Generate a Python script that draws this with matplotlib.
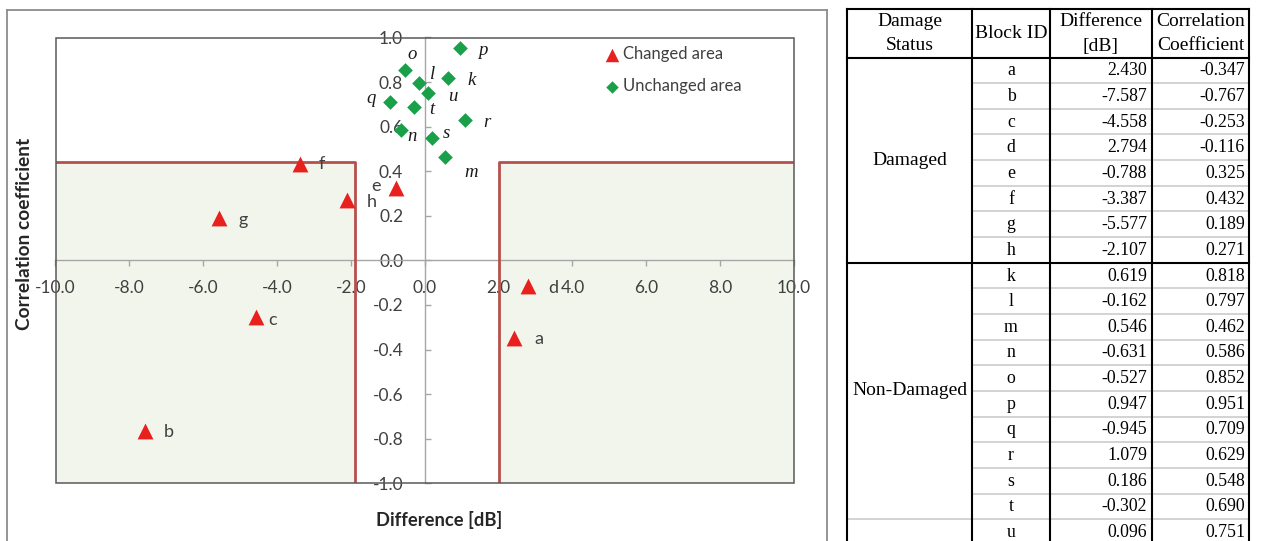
import matplotlib
matplotlib.use('Agg')
import matplotlib.pyplot as plt
from matplotlib.lines import Line2D
from matplotlib.patches import Rectangle

# ---------------- data ----------------
damaged_ids = ['a', 'b', 'c', 'd', 'e', 'f', 'g', 'h']
damaged_diff = [2.430, -7.587, -4.558, 2.794, -0.788, -3.387, -5.577, -2.107]
damaged_corr = [-0.347, -0.767, -0.253, -0.116, 0.325, 0.432, 0.189, 0.271]

undamaged_ids = ['k', 'l', 'm', 'n', 'o', 'p', 'q', 'r', 's', 't', 'u']
undamaged_diff = [0.619, -0.162, 0.546, -0.631, -0.527, 0.947, -0.945, 1.079, 0.186, -0.302, 0.096]
undamaged_corr = [0.818, 0.797, 0.462, 0.586, 0.852, 0.951, 0.709, 0.629, 0.548, 0.690, 0.751]

x_ticks = [-10, -8, -6, -4, -2, 0, 2, 4, 6, 8, 10]
y_ticks = [-1.0, -0.8, -0.6, -0.4, -0.2, 0.0, 0.2, 0.4, 0.6, 0.8, 1.0]

diff_low = -1.9
diff_high = 2.0
corr_threshold = 0.44

legend_labels = ['Changed area', 'Unchanged area']
x_title = 'Difference [dB]'
y_title = 'Correlation coefficient'

table_header = [['Damage', 'Status'], ['Block ID'], ['Difference', '[dB]'], ['Correlation', 'Coefficient']]
status_groups = [('Damaged', 8), ('Non-Damaged', 10), ('', 1)]

# ---------------- layout helpers ----------------
W, H = 1262, 541
fig = plt.figure(figsize=(W / 100, H / 100), dpi=100)


def P(x, y):
    return (x / W, 1 - y / H)


SANS = ['Lato', 'DejaVu Sans']
SERIF = ['Liberation Serif', 'DejaVu Serif']
TXT = '#404040'

# ---------------- chart ----------------
ax_l, ax_r, ax_t, ax_b = 55.5, 794, 37.5, 483.3
ax = fig.add_axes([ax_l / W, 1 - ax_b / H, (ax_r - ax_l) / W, (ax_b - ax_t) / H])
ax.set_xlim(x_ticks[0], x_ticks[-1])
ax.set_ylim(y_ticks[0], y_ticks[-1])
ax.set_facecolor('white')

# shaded regions + threshold lines
fill_c = '#F2F5EC'
line_c = '#B5504D'
ax.fill_between([x_ticks[0], diff_low], y_ticks[0], corr_threshold, color=fill_c, lw=0, zorder=0)
ax.fill_between([diff_high, x_ticks[-1]], y_ticks[0], corr_threshold, color=fill_c, lw=0, zorder=0)
ax.plot([x_ticks[0], diff_low, diff_low], [corr_threshold, corr_threshold, y_ticks[0]],
        color=line_c, lw=2.0, zorder=3, solid_capstyle='butt')
ax.plot([diff_high, diff_high, x_ticks[-1]], [y_ticks[0], corr_threshold, corr_threshold],
        color=line_c, lw=2.0, zorder=3, solid_capstyle='butt')

# axes crossing at origin
for s in ['top', 'right']:
    ax.spines[s].set_visible(False)
ax.spines['left'].set_position(('data', 0))
ax.spines['bottom'].set_position(('data', 0))
for s in ['left', 'bottom']:
    ax.spines[s].set_color('#A6A6A6')
    ax.spines[s].set_linewidth(1.0)
    ax.spines[s].set_zorder(2)
ax.set_xticks(x_ticks)
ax.set_yticks(y_ticks)
ax.set_xticklabels([f'{v:.1f}' for v in x_ticks])
ax.set_yticklabels([f'{v:.1f}' for v in y_ticks])
ax.tick_params(axis='x', direction='out', length=4.3, width=1, color='#A6A6A6',
               pad=9.5, labelsize=12.5, labelcolor=TXT)
ax.tick_params(axis='y', direction='in', length=4.3, width=1, color='#A6A6A6',
               pad=15.5, labelsize=12.5, labelcolor=TXT)
for lab in ax.get_xticklabels() + ax.get_yticklabels():
    lab.set_family(SANS)

# plot-area frame
ax.add_patch(Rectangle((0, 0), 1, 1, transform=ax.transAxes, fill=False,
                       edgecolor='#595959', lw=1.1, zorder=4, clip_on=False))

# points
ax.scatter(damaged_diff, damaged_corr, marker='^', s=130, color='#E8201E', zorder=5,
           linewidths=0, label=legend_labels[0])
ax.scatter(undamaged_diff, undamaged_corr, marker='D', s=56, color='#1BA04A', zorder=5,
           linewidths=0, label=legend_labels[1])

# label offsets (pixels: right, up)
dam_off = {'a': (24, -1), 'b': (24, -1), 'c': (16, -3), 'd': (25, -2), 'e': (-20, 2),
           'f': (22, 0), 'g': (24, -2), 'h': (25, -2)}
und_off = {'k': (24, -2), 'l': (14, 8), 'm': (26, -15), 'n': (11, -7), 'o': (7, 16),
           'p': (23, -2), 'q': (-19, 4), 'r': (22, -2), 's': (15, 5), 't': (18, -3), 'u': (24, -3)}
for i, x, y in zip(damaged_ids, damaged_diff, damaged_corr):
    dx, dy = dam_off[i]
    ax.annotate(i, (x, y), xytext=(dx * 0.72, dy * 0.72), textcoords='offset points',
                ha='center', va='center', fontsize=13, family=SANS, color=TXT, zorder=6)
for i, x, y in zip(undamaged_ids, undamaged_diff, undamaged_corr):
    dx, dy = und_off[i]
    ax.annotate(i, (x, y), xytext=(dx * 0.72, dy * 0.72), textcoords='offset points',
                ha='center', va='center', fontsize=13.5, family=SERIF, style='italic',
                color='#1a1a1a', zorder=6)

leg = ax.legend(loc='upper left', bbox_to_anchor=P(606, 46), bbox_transform=fig.transFigure,
                frameon=False, fontsize=12, handlelength=0.7, handletextpad=0.3,
                labelspacing=0.98, borderpad=0, borderaxespad=0, markerscale=0.85)
for t in leg.get_texts():
    t.set_family(SANS)
    t.set_color(TXT)

# axis titles
fig.text(*P(439, 520), x_title, ha='center', va='center', fontsize=13.2,
         fontweight='bold', family=SANS, color='#262626')
fig.text(*P(25, 234), y_title, ha='center', va='center', rotation=90, fontsize=13.8,
         fontweight='bold', family=SANS, color='#262626')

# outer chart border
bc = '#8C8C8C'
for xs, ys in [((7, 7), (10, 560)), ((7, 827), (10, 10)), ((827, 827), (10, 560))]:
    fig.add_artist(Line2D([xs[0] / W, xs[1] / W], [1 - ys[0] / H, 1 - ys[1] / H],
                          color=bc, lw=1.3, transform=fig.transFigure))

# ---------------- table ----------------
col_x = [847, 972, 1050, 1152, 1249]
t_top = 9
hdr_bot = 57.5
row_h = 25.65
all_ids = damaged_ids + undamaged_ids
all_diff = damaged_diff + undamaged_diff
all_corr = damaged_corr + undamaged_corr


def hline(y, x0, x1, color, lw):
    fig.add_artist(Line2D([x0 / W, x1 / W], [1 - y / H, 1 - y / H], color=color, lw=lw,
                          transform=fig.transFigure, solid_capstyle='projecting'))


def vline(x, y0, y1, color, lw):
    fig.add_artist(Line2D([x / W, x / W], [1 - y0 / H, 1 - y1 / H], color=color, lw=lw,
                          transform=fig.transFigure, solid_capstyle='projecting'))


grey = '#C8C8C8'
# row separators (thin grey)
r = 0
for name, n in status_groups:
    for k in range(n):
        y = hdr_bot + (r + k) * row_h
        if k > 0:
            hline(y, col_x[1], col_x[-1], grey, 1.1)
    r += n
# group separators
y_dam = hdr_bot + 8 * row_h
y_non = hdr_bot + 18 * row_h
hline(y_non, col_x[0], col_x[-1], grey, 1.1)
hline(t_top, col_x[0], col_x[-1], 'black', 1.5)
hline(hdr_bot, col_x[0], col_x[-1], 'black', 1.5)
hline(y_dam, col_x[0], col_x[-1], 'black', 1.5)
for x in col_x:
    vline(x, t_top, 560, 'black', 1.5)

# header text
hdr_fs = 14
cell_fs = 12.8
for ci, lines in enumerate(table_header):
    cx = (col_x[ci] + col_x[ci + 1]) / 2
    if len(lines) == 1:
        fig.text(*P(cx, 34), lines[0], ha='center', va='center', fontsize=hdr_fs, family=SERIF)
    else:
        fig.text(*P(cx, 21), lines[0], ha='center', va='center', fontsize=hdr_fs, family=SERIF)
        fig.text(*P(cx, 46), lines[1], ha='center', va='center', fontsize=hdr_fs, family=SERIF)

# status text
r = 0
for name, n in status_groups:
    cy = hdr_bot + (r + n / 2) * row_h
    if name:
        fig.text(*P((col_x[0] + col_x[1]) / 2, cy), name, ha='center', va='center',
                 fontsize=hdr_fs, family=SERIF)
    r += n

# rows
for i, (bid, d, c) in enumerate(zip(all_ids, all_diff, all_corr)):
    cy = hdr_bot + (i + 0.5) * row_h + 0.5
    fig.text(*P((col_x[1] + col_x[2]) / 2, cy), bid, ha='center', va='center',
             fontsize=cell_fs, family=SERIF)
    fig.text(*P(col_x[3] - 5, cy), f'{d:.3f}', ha='right', va='center',
             fontsize=cell_fs, family=SERIF)
    fig.text(*P(col_x[4] - 4, cy), f'{c:.3f}', ha='right', va='center',
             fontsize=cell_fs, family=SERIF)

fig.savefig('out.png', dpi=100)
